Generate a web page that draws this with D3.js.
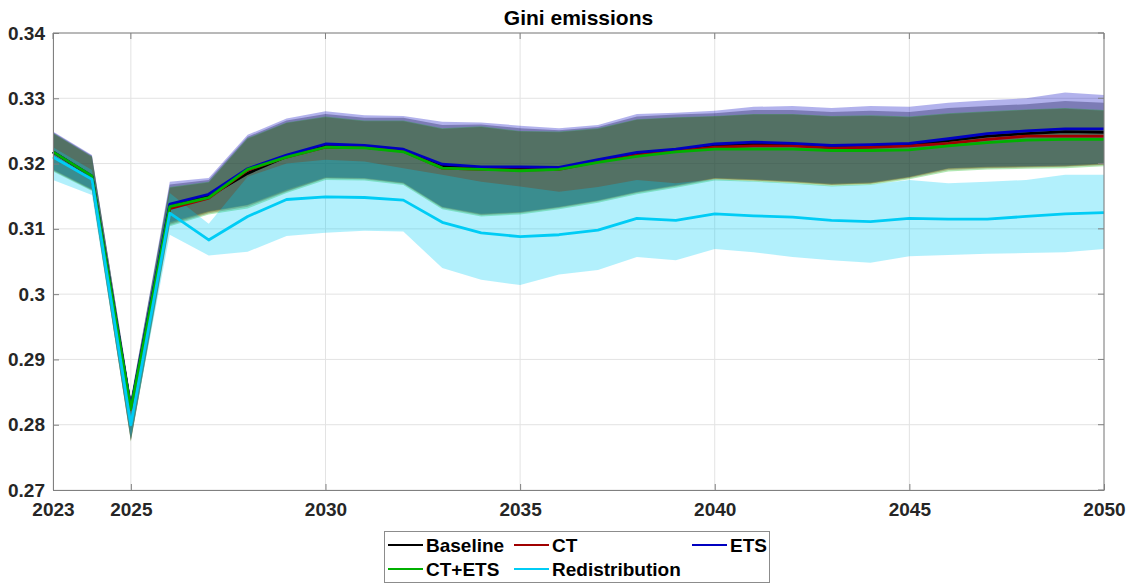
<!DOCTYPE html>
<html>
<head>
<meta charset="utf-8">
<script src="https://cdn.jsdelivr.net/npm/d3@7"></script>
<style>
  body { margin: 0; background: #fff; }
  svg text { font-family: "Liberation Sans", Arial, sans-serif; font-weight: bold; fill: #262626; }
</style>
</head>
<body>
<svg id="chart"></svg>
<script>
// years on the x axis
var years = d3.range(2023, 2051);
var xTicks = [2023, 2025, 2030, 2035, 2040, 2045, 2050];
var yTicks = [0.27, 0.28, 0.29, 0.30, 0.31, 0.32, 0.33, 0.34];

// mean paths
var baseline = [0.3218, 0.3180, 0.2825, 0.3135, 0.3150, 0.3185, 0.3211, 0.3227, 0.3225, 0.3221, 0.3196, 0.3193, 0.3192, 0.3192, 0.3204, 0.3214, 0.3220, 0.3227, 0.3231, 0.3229, 0.3225, 0.3226, 0.3229, 0.3235, 0.3242, 0.3246, 0.3249, 0.3248];
var ct       = [0.3218, 0.3180, 0.2824, 0.3131, 0.3147, 0.3190, 0.3210, 0.3225, 0.3225, 0.3219, 0.3193, 0.3191, 0.3190, 0.3191, 0.3203, 0.3213, 0.3219, 0.3225, 0.3227, 0.3227, 0.3224, 0.3225, 0.3227, 0.3231, 0.3237, 0.3242, 0.3242, 0.3242];
var ets      = [0.3218, 0.3181, 0.2826, 0.3138, 0.3153, 0.3192, 0.3213, 0.3230, 0.3228, 0.3222, 0.3199, 0.3195, 0.3195, 0.3194, 0.3206, 0.3217, 0.3222, 0.3230, 0.3233, 0.3231, 0.3228, 0.3229, 0.3231, 0.3238, 0.3246, 0.3250, 0.3253, 0.3253];
var ctEts    = [0.3218, 0.3181, 0.2824, 0.3134, 0.3148, 0.3191, 0.3210, 0.3225, 0.3224, 0.3218, 0.3193, 0.3191, 0.3189, 0.3191, 0.3202, 0.3211, 0.3218, 0.3222, 0.3222, 0.3222, 0.3220, 0.3220, 0.3221, 0.3227, 0.3232, 0.3236, 0.3237, 0.3237];
var redist   = [0.3210, 0.3176, 0.2800, 0.3124, 0.3083, 0.3119, 0.3145, 0.3149, 0.3148, 0.3144, 0.3110, 0.3094, 0.3088, 0.3091, 0.3098, 0.3116, 0.3113, 0.3123, 0.3120, 0.3118, 0.3113, 0.3111, 0.3116, 0.3115, 0.3115, 0.3119, 0.3123, 0.3125];

// uncertainty bands (upper / lower)
var baselineHi = [0.3248, 0.3212, 0.2839, 0.3168, 0.3175, 0.3241, 0.3266, 0.3276, 0.3270, 0.3270, 0.3259, 0.3260, 0.3254, 0.3251, 0.3256, 0.3272, 0.3275, 0.3277, 0.3282, 0.3282, 0.3279, 0.3281, 0.3279, 0.3285, 0.3288, 0.3291, 0.3296, 0.3293];
var baselineLo = [0.3190, 0.3160, 0.2776, 0.3108, 0.3126, 0.3136, 0.3158, 0.3178, 0.3177, 0.3170, 0.3133, 0.3122, 0.3125, 0.3133, 0.3143, 0.3156, 0.3166, 0.3177, 0.3175, 0.3172, 0.3168, 0.3170, 0.3179, 0.3192, 0.3194, 0.3195, 0.3196, 0.3199];
var ctHi       = [0.3246, 0.3210, 0.2837, 0.3163, 0.3171, 0.3238, 0.3262, 0.3271, 0.3265, 0.3265, 0.3253, 0.3256, 0.3249, 0.3248, 0.3253, 0.3267, 0.3270, 0.3272, 0.3275, 0.3275, 0.3272, 0.3273, 0.3271, 0.3276, 0.3279, 0.3282, 0.3284, 0.3281];
var ctLo       = [0.3189, 0.3159, 0.2775, 0.3106, 0.3124, 0.3134, 0.3157, 0.3177, 0.3176, 0.3169, 0.3132, 0.3121, 0.3124, 0.3132, 0.3142, 0.3155, 0.3165, 0.3176, 0.3174, 0.3171, 0.3167, 0.3169, 0.3178, 0.3190, 0.3193, 0.3194, 0.3195, 0.3198];
var etsHi      = [0.3249, 0.3213, 0.2840, 0.3172, 0.3178, 0.3244, 0.3269, 0.3280, 0.3274, 0.3273, 0.3264, 0.3263, 0.3258, 0.3254, 0.3259, 0.3276, 0.3278, 0.3281, 0.3287, 0.3288, 0.3285, 0.3288, 0.3287, 0.3293, 0.3297, 0.3300, 0.3309, 0.3305];
var etsLo      = [0.3191, 0.3161, 0.2777, 0.3110, 0.3127, 0.3137, 0.3160, 0.3179, 0.3178, 0.3171, 0.3134, 0.3123, 0.3126, 0.3134, 0.3144, 0.3157, 0.3167, 0.3178, 0.3176, 0.3173, 0.3169, 0.3171, 0.3180, 0.3193, 0.3195, 0.3196, 0.3197, 0.3200];
var ctEtsHi    = [0.3247, 0.3211, 0.2838, 0.3164, 0.3172, 0.3239, 0.3263, 0.3272, 0.3266, 0.3266, 0.3254, 0.3257, 0.3250, 0.3249, 0.3254, 0.3268, 0.3271, 0.3273, 0.3276, 0.3276, 0.3273, 0.3274, 0.3272, 0.3277, 0.3280, 0.3283, 0.3285, 0.3282];
var ctEtsLo    = [0.3188, 0.3158, 0.2774, 0.3104, 0.3122, 0.3131, 0.3155, 0.3175, 0.3174, 0.3167, 0.3130, 0.3119, 0.3122, 0.3130, 0.3140, 0.3153, 0.3163, 0.3174, 0.3172, 0.3169, 0.3165, 0.3167, 0.3176, 0.3188, 0.3191, 0.3192, 0.3193, 0.3196];
var redistHi   = [0.3225, 0.3190, 0.2815, 0.3155, 0.3108, 0.3180, 0.3200, 0.3206, 0.3203, 0.3193, 0.3183, 0.3172, 0.3165, 0.3157, 0.3164, 0.3175, 0.3170, 0.3176, 0.3173, 0.3170, 0.3166, 0.3168, 0.3175, 0.3170, 0.3172, 0.3175, 0.3183, 0.3183];
var redistLo   = [0.3175, 0.3152, 0.2780, 0.3091, 0.3059, 0.3065, 0.3089, 0.3094, 0.3097, 0.3096, 0.3040, 0.3022, 0.3014, 0.3030, 0.3037, 0.3057, 0.3052, 0.3069, 0.3064, 0.3057, 0.3052, 0.3048, 0.3058, 0.3060, 0.3062, 0.3063, 0.3064, 0.3069];

var series = [
    { name: 'Baseline',       color: '#000000', mean: baseline, hi: baselineHi, lo: baselineLo },
    { name: 'CT',             color: '#a00000', mean: ct,       hi: ctHi,       lo: ctLo },
    { name: 'ETS',            color: '#0000c0', mean: ets,      hi: etsHi,      lo: etsLo },
    { name: 'CT+ETS',         color: '#00b000', mean: ctEts,    hi: ctEtsHi,    lo: ctEtsLo },
    { name: 'Redistribution', color: '#00ccf5', mean: redist,   hi: redistHi,   lo: redistLo }
];

var width = 1131, height = 584;
var margin = { left: 53, right: 27, top: 33, bottom: 94 };

var svg = d3.select('#chart')
    .attr('width', width)
    .attr('height', height);

var x = d3.scaleLinear().domain([2023, 2050]).range([margin.left, width - margin.right]);
var y = d3.scaleLinear().domain([0.27, 0.34]).range([height - margin.bottom, margin.top]);

// grid
svg.append('g').selectAll('line')
    .data(yTicks).enter().append('line')
    .attr('x1', x(2023)).attr('x2', x(2050))
    .attr('y1', function(d) { return y(d); }).attr('y2', function(d) { return y(d); })
    .attr('stroke', '#e3e3e3').attr('stroke-width', 1);
svg.append('g').selectAll('line')
    .data(xTicks).enter().append('line')
    .attr('x1', function(d) { return x(d); }).attr('x2', function(d) { return x(d); })
    .attr('y1', y(0.27)).attr('y2', y(0.34))
    .attr('stroke', '#e3e3e3').attr('stroke-width', 1);

// bands
var area = d3.area()
    .x(function(d, i) { return x(years[i]); })
    .y0(function(d) { return y(d[0]); })
    .y1(function(d) { return y(d[1]); });

svg.append('g').selectAll('path')
    .data(series).enter().append('path')
    .attr('d', function(s) { return area(s.lo.map(function(v, i) { return [v, s.hi[i]]; })); })
    .attr('fill', function(s) { return s.color; })
    .attr('fill-opacity', 0.3)
    .attr('stroke', 'none');

// mean lines
var line = d3.line()
    .x(function(d, i) { return x(years[i]); })
    .y(function(d) { return y(d); });

svg.append('g').selectAll('path')
    .data(series).enter().append('path')
    .attr('d', function(s) { return line(s.mean); })
    .attr('fill', 'none')
    .attr('stroke', function(s) { return s.color; })
    .attr('stroke-width', 2.8)
    .attr('stroke-linejoin', 'round');

// axes
var xAxis = svg.append('g')
    .attr('transform', 'translate(0,' + y(0.27) + ')')
    .call(d3.axisBottom(x).tickValues(xTicks).tickFormat(d3.format('d')).tickSizeInner(-6).tickSizeOuter(0).tickPadding(13));
var yAxis = svg.append('g')
    .attr('transform', 'translate(' + x(2023) + ',0)')
    .call(d3.axisLeft(y).tickValues(yTicks).tickFormat(function(d) { return String(+d.toFixed(2)); }).tickSizeInner(-6).tickSizeOuter(0).tickPadding(8));
svg.selectAll('.domain, .tick line').attr('stroke', '#808080');
svg.selectAll('.tick text').style('font-size', '19px').attr('fill', '#262626');

// top/right box with ticks
svg.append('line').attr('x1', x(2023)).attr('x2', x(2050)).attr('y1', y(0.34)).attr('y2', y(0.34)).attr('stroke', '#808080');
svg.append('line').attr('x1', x(2050)).attr('x2', x(2050)).attr('y1', y(0.34)).attr('y2', y(0.27)).attr('stroke', '#808080');
svg.append('g').selectAll('line')
    .data(xTicks).enter().append('line')
    .attr('x1', function(d) { return x(d); }).attr('x2', function(d) { return x(d); })
    .attr('y1', y(0.34)).attr('y2', y(0.34) + 6).attr('stroke', '#808080');
svg.append('g').selectAll('line')
    .data(yTicks).enter().append('line')
    .attr('x1', x(2050)).attr('x2', x(2050) - 6)
    .attr('y1', function(d) { return y(d); }).attr('y2', function(d) { return y(d); })
    .attr('stroke', '#808080');

// title
svg.append('text')
    .attr('x', (x(2023) + x(2050)) / 2).attr('y', 25)
    .attr('text-anchor', 'middle')
    .style('font-size', '21px')
    .style('fill', '#000')
    .text('Gini emissions');

// legend
var legend = svg.append('g');
legend.append('rect')
    .attr('x', 384.5).attr('y', 531.5).attr('width', 385).attr('height', 51)
    .attr('fill', '#fff').attr('stroke', '#8c8c8c');
var legX = [388, 514, 692];
var legY = [545, 569];
var item = legend.selectAll('g.item')
    .data(series).enter().append('g')
    .attr('transform', function(d, i) { return 'translate(' + legX[i % 3] + ',' + legY[Math.floor(i / 3)] + ')'; });
item.append('line')
    .attr('x1', 0).attr('x2', 35).attr('y1', 0).attr('y2', 0)
    .attr('stroke', function(d) { return d.color; }).attr('stroke-width', 2.2);
item.append('text')
    .attr('x', 38).attr('y', 7)
    .style('font-size', '19px')
    .style('fill', '#000')
    .text(function(d) { return d.name; });
</script>
</body>
</html>
